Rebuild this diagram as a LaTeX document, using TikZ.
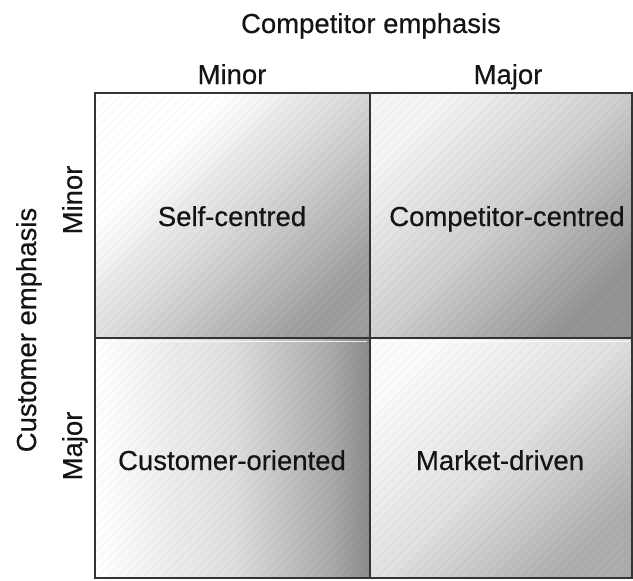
\documentclass[tikz,border=0pt]{standalone}
\usepackage{fontspec}
\setmainfont{Liberation Sans}
\newfontfamily\labfont{Liberation Sans}[FakeBold=0.35]
\usetikzlibrary{shadings}
\pgfdeclareverticalshading{tlcell}{100bp}{color(0bp)=(black!38); color(25bp)=(black!38); color(50bp)=(black!14); color(68bp)=(white); color(100bp)=(white)}
\pgfdeclareverticalshading{trcell}{100bp}{color(0bp)=(black!42); color(25bp)=(black!42); color(50bp)=(black!19); color(75bp)=(black!4); color(100bp)=(black!4)}
\pgfdeclarehorizontalshading{blcell}{100bp}{color(0bp)=(white); color(25bp)=(white); color(50bp)=(black!13); color(67bp)=(black!32); color(75bp)=(black!46); color(100bp)=(black!46)}
\pgfdeclareverticalshading{brcell}{100bp}{color(0bp)=(black!32); color(25bp)=(black!32); color(50bp)=(black!12); color(75bp)=(black!2); color(100bp)=(black!2)}
\begin{document}
\begin{tikzpicture}[x=1pt,y=-1pt,
  lab/.style={anchor=base,inner sep=0pt,text=black!92,font=\labfont\fontsize{27.5}{32}\selectfont},
  rlab/.style={lab,rotate=90},
  gridline/.style={draw=black!80,line width=1.6pt},
  hatch/.style={draw=black,opacity=0.018,line width=2pt}]
\useasboundingbox (0,0) rectangle (633,581);
\fill[white] (0,0) rectangle (633,581);
% cells
\shade[shading=tlcell,shading angle=45] (95,93) rectangle (370,338);
\shade[shading=trcell,shading angle=45] (370,93) rectangle (632,338);
\shade[shading=blcell] (95,338) rectangle (370,578);
\shade[shading=brcell,shading angle=45] (370,338) rectangle (632,578);
% hatching
\begin{scope}
\clip (95,93) rectangle (632,578);
\foreach \c in {180,189,...,1220} \draw[hatch] (\c-600,600) -- (\c,0);
\end{scope}
% bevel highlights
\draw[white,line width=1.2pt,opacity=0.8] (98,341.5) -- (367,341.5);
\draw[white,line width=1.2pt,opacity=0.8] (373,341.5) -- (630,341.5);
% grid
\draw[gridline] (95,93) rectangle (632,578);
\draw[gridline] (370,93) -- (370,578);
\draw[gridline] (95,338) -- (632,338);
% labels
\node[lab] (ce) at (371,33) {Competitor emphasis};
\node[lab] (cmin) at (232,84) {Minor};
\node[lab] (cmaj) at (508,84) {Major};
\node[rlab] (ue) at (36,330) {Customer emphasis};
\node[rlab] (umin) at (82,200) {Minor};
\node[rlab] (umaj) at (82,446) {Major};
\node[lab] (sc) at (232,226) {Self-centred};
\node[lab] (cc) at (507,226) {Competitor-centred};
\node[lab] (co) at (232,470) {Customer-oriented};
\node[lab] (md) at (500,470) {Market-driven};
\end{tikzpicture}
\end{document}
